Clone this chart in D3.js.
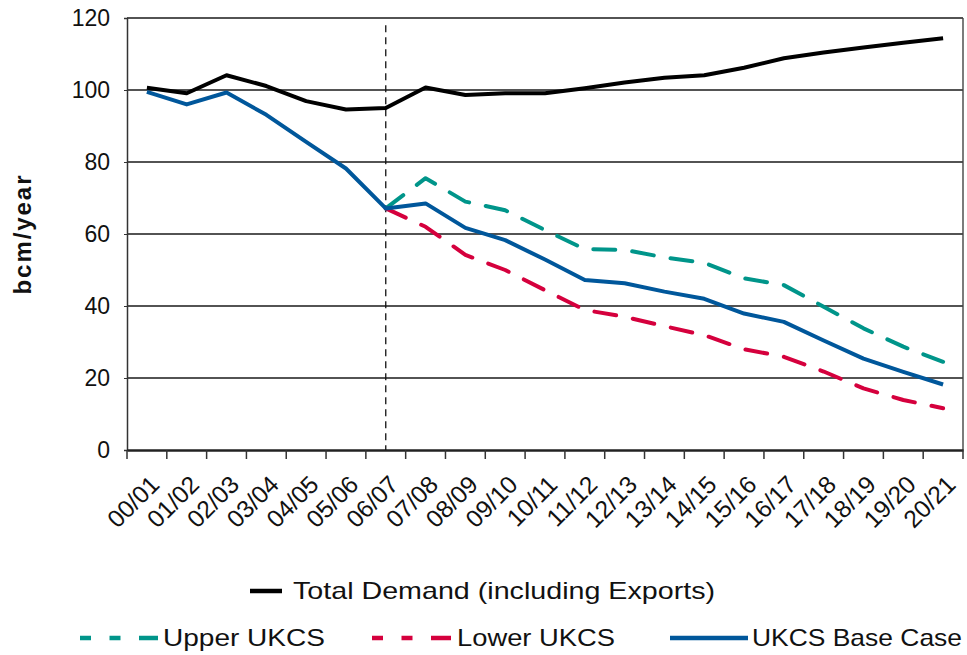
<!DOCTYPE html>
<html>
<head>
<meta charset="utf-8">
<script src="https://cdn.jsdelivr.net/npm/d3@7"></script>
<style>
  html, body { margin: 0; padding: 0; background: #fff; }
  svg { display: block; font-family: "Liberation Sans", Arial, sans-serif; }
</style>
</head>
<body>
<svg id="chart" width="967" height="655"></svg>
<script>
const categories = ["00/01","01/02","02/03","03/04","04/05","05/06","06/07","07/08","08/09","09/10","10/11","11/12","12/13","13/14","14/15","15/16","16/17","17/18","18/19","19/20","20/21"];
const totalDemand = [100.6, 99.1, 104.1, 101.1, 96.9, 94.6, 95.0, 100.7, 98.6, 99.1, 99.1, 100.5, 102.1, 103.4, 104.1, 106.2, 108.8, 110.4, 111.8, 113.1, 114.4];
const upperUKCS = [null, null, null, null, null, null, 67.1, 75.5, 69.0, 66.6, 61.1, 55.8, 55.6, 53.5, 52.0, 47.7, 45.8, 39.8, 33.8, 28.7, 24.5];
const lowerUKCS = [null, null, null, null, null, null, 67.1, 62.0, 54.2, 50.0, 44.4, 38.9, 37.0, 34.4, 31.9, 28.0, 25.9, 21.8, 17.1, 13.9, 11.6];
const baseCase = [99.5, 96.0, 99.3, 93.1, 85.6, 78.2, 67.1, 68.5, 61.7, 58.3, 52.9, 47.2, 46.3, 44.0, 42.0, 37.9, 35.6, 30.4, 25.4, 21.7, 18.2];
const yTicks = [0, 20, 40, 60, 80, 100, 120];
const dividerCategory = "06/07";

(function () {
const svg = d3.select("#chart");
const mLeft = 127, mRight = 963, mTop = 18, mBottom = 450;

const x = d3.scaleBand().domain(categories).range([mLeft, mRight]).padding(0);
const y = d3.scaleLinear().domain([0, 120]).range([mBottom, mTop]);
const cx = c => x(c) + x.bandwidth() / 2;

// gridlines
svg.append("g").selectAll("line").data(yTicks.filter(t => t > 0)).join("line")
  .attr("x1", mLeft).attr("x2", mRight)
  .attr("y1", d => y(d)).attr("y2", d => y(d))
  .attr("stroke", "#1a1a1a").attr("stroke-width", 1.4);

// right border
svg.append("line").attr("x1", mRight).attr("x2", mRight).attr("y1", mTop).attr("y2", mBottom)
  .attr("stroke", "#444").attr("stroke-width", 1.4);

// y axis
const yAxis = svg.append("g").attr("transform", `translate(${mLeft},0)`)
  .call(d3.axisLeft(y).tickValues(yTicks).tickSize(3).tickPadding(14));
yAxis.select(".domain").attr("stroke", "#333").attr("stroke-width", 1.5);
yAxis.selectAll(".tick line").attr("stroke", "#333");
yAxis.selectAll("text").attr("font-size", 23).attr("fill", "#111")
  .attr("font-family", "Liberation Sans, Arial, sans-serif");

// x axis
const xAxis = svg.append("g").attr("transform", `translate(0,${mBottom})`)
  .call(d3.axisBottom(x).tickSize(0).tickFormat(d => d));
xAxis.select(".domain").attr("stroke", "#222").attr("stroke-width", 2.6);
xAxis.selectAll(".tick text")
  .attr("font-size", 24.5).attr("fill", "#111")
  .attr("font-family", "Liberation Sans, Arial, sans-serif")
  .attr("text-anchor", "end")
  .attr("y", 0)
  .attr("dy", null)
  .attr("transform", "translate(14,36) rotate(-45)");
// band-edge ticks
const edges = categories.map(c => x(c)).concat([mRight]);
svg.append("g").selectAll("line").data(edges).join("line")
  .attr("x1", d => d).attr("x2", d => d)
  .attr("y1", mBottom).attr("y2", mBottom + 9)
  .attr("stroke", "#333").attr("stroke-width", 1.5);

// divider
svg.append("line")
  .attr("x1", cx(dividerCategory)).attr("x2", cx(dividerCategory))
  .attr("y1", y(118)).attr("y2", mBottom)
  .attr("stroke", "#111").attr("stroke-width", 1.3).attr("stroke-dasharray", "7,5");

// y label
svg.append("text")
  .attr("transform", `translate(31,235) rotate(-90)`)
  .attr("text-anchor", "middle")
  .attr("font-size", 24).attr("font-weight", "bold").attr("fill", "#111")
  .attr("textLength", 119).attr("lengthAdjust", "spacing")
  .text("bcm/year");

const line = d3.line().defined(d => d.v != null).x(d => cx(d.c)).y(d => y(d.v));
const toPts = arr => categories.map((c, i) => ({ c, v: arr[i] }));

const series = [
  { name: "Upper UKCS", data: upperUKCS, color: "#00958a", dash: "22,17" },
  { name: "Lower UKCS", data: lowerUKCS, color: "#d5003d", dash: "22,17" },
  { name: "UKCS Base Case", data: baseCase, color: "#00579b", dash: null },
  { name: "Total Demand (including Exports)", data: totalDemand, color: "#000", dash: null }
];
svg.append("g").selectAll("path").data(series).join("path")
  .attr("d", s => line(toPts(s.data)))
  .attr("fill", "none")
  .attr("stroke", s => s.color)
  .attr("stroke-width", 4)
  .attr("stroke-linejoin", "round")
  .attr("stroke-linecap", s => s.dash ? "round" : "butt")
  .attr("stroke-dasharray", s => s.dash);

// legend
const legend = svg.append("g").attr("font-size", 24).attr("fill", "#111");
function legendItem(x0, x1, yy, color, dash, label, tx, tw) {
  legend.append("line").attr("x1", x0).attr("x2", x1).attr("y1", yy).attr("y2", yy)
    .attr("stroke", color).attr("stroke-width", 4.5).attr("stroke-dasharray", dash);
  legend.append("text").attr("x", tx).attr("y", yy + 8)
    .attr("textLength", tw).attr("lengthAdjust", "spacingAndGlyphs").text(label);
}
legendItem(250, 282, 591, "#000", null, "Total Demand (including Exports)", 293, 422);
legendItem(80, 158, 638, "#00958a", "11,18.5,11,18.5,19", "Upper UKCS", 163, 162);
legendItem(372, 451, 638, "#d5003d", "11,18.5,11,18.5,20", "Lower UKCS", 457, 158);
legendItem(670, 748, 638, "#00579b", null, "UKCS Base Case", 752, 210);
})();
</script>
</body>
</html>
